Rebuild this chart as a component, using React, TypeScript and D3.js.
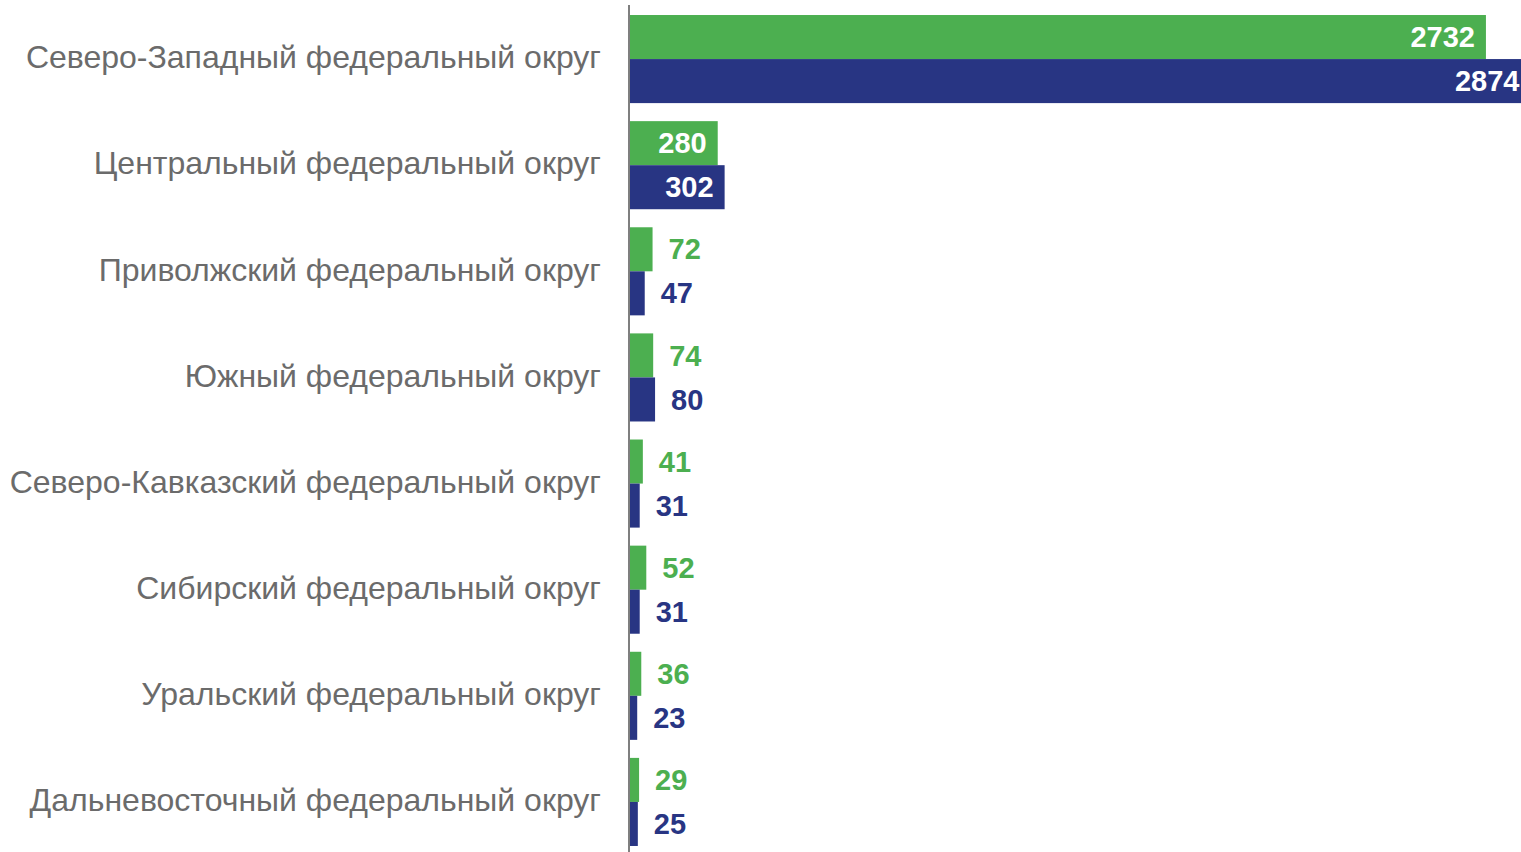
import React from "react";
import * as d3 from "d3";

const categories = [
  "Северо-Западный федеральный округ",
  "Центральный федеральный округ",
  "Приволжский федеральный округ",
  "Южный федеральный округ",
  "Северо-Кавказский федеральный округ",
  "Сибирский федеральный округ",
  "Уральский федеральный округ",
  "Дальневосточный федеральный округ",
];
const greenValues = [2732, 280, 72, 74, 41, 52, 36, 29];
const navyValues = [2874, 302, 47, 80, 31, 31, 23, 25];

const W = 1521;
const H = 852;
const GREEN = "#4caf50";
const NAVY = "#283583";
const AXIS_X = 630;

export default function App() {
  const y = d3.scaleBand<string>().domain(categories).range([6, 855]).paddingInner(0.17).paddingOuter(0.085);
  const x = d3.scaleLinear().domain([0, 2874]).range([AXIS_X, AXIS_X + 2874 * 0.3133]);
  const bh = y.bandwidth() / 2;
  const series = [
    { values: greenValues, color: GREEN, off: 0 },
    { values: navyValues, color: NAVY, off: bh },
  ];
  return (
    <svg width={W} height={H} style={{ position: "absolute", left: 0, top: 0, background: "#fff" }}>
      {categories.map((c) => (
        <text
          key={c}
          x={601}
          y={(y(c) as number) + y.bandwidth() / 2 - 2}
          dy="0.35em"
          textAnchor="end"
          fontFamily="Liberation Sans, Arial, sans-serif"
          fontSize={32}
          fill="#6b6b6b"
        >
          {c}
        </text>
      ))}
      {series.map((s, si) =>
        s.values.map((v, i) => {
          const c = categories[i];
          const top = (y(c) as number) + s.off;
          const end = x(v);
          const inside = v > 200;
          return (
            <g key={`${si}-${i}`}>
              <rect x={x(0)} y={top} width={end - x(0)} height={bh} fill={s.color} />
              <text
                x={inside ? end - 11 : end + 16}
                y={top + bh / 2}
                dy="0.35em"
                textAnchor={inside ? "end" : "start"}
                fontFamily="Liberation Sans, Arial, sans-serif"
                fontWeight="bold"
                fontSize={29}
                fill={inside ? "#fff" : s.color}
              >
                {v}
              </text>
            </g>
          );
        })
      )}
      <line x1={AXIS_X - 1} x2={AXIS_X - 1} y1={5} y2={H} stroke="#7f7f7f" strokeWidth={2} />
    </svg>
  );
}
